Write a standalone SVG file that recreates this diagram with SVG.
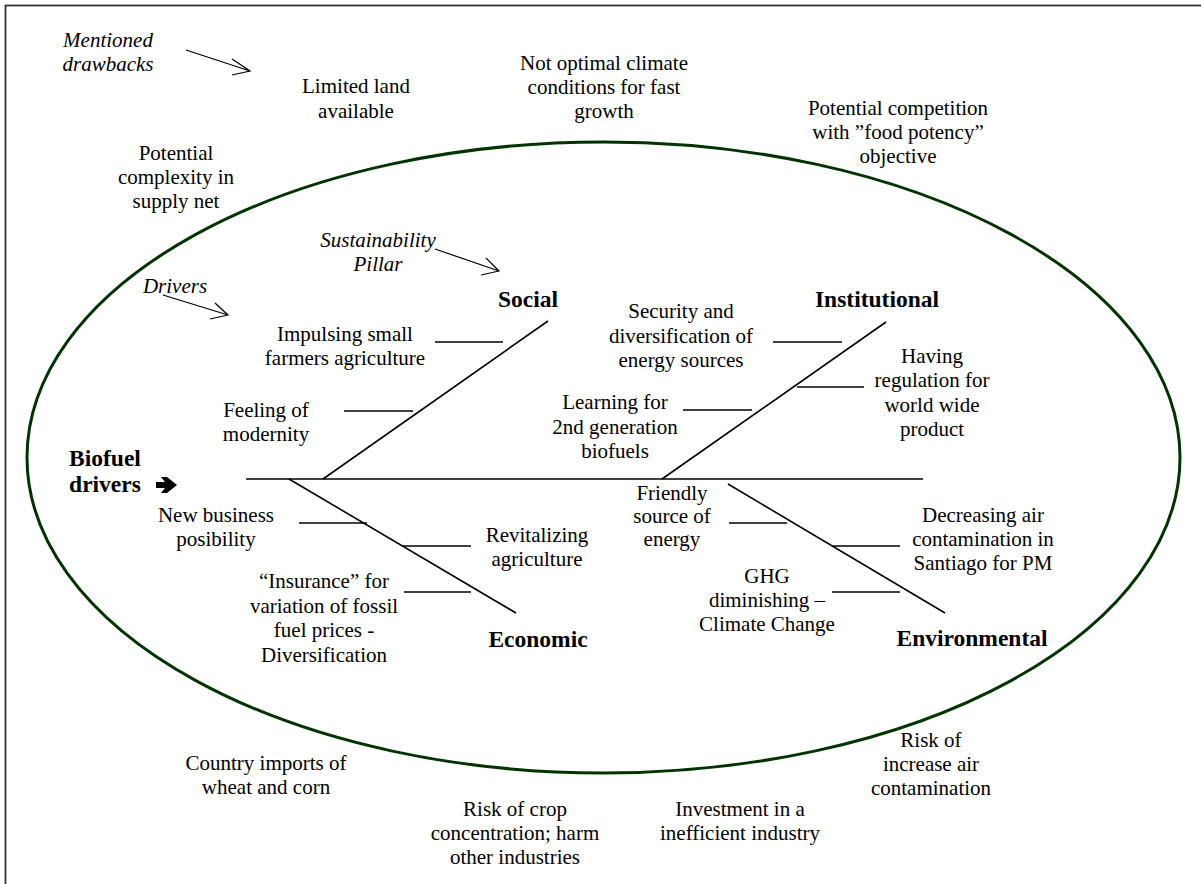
<svg xmlns="http://www.w3.org/2000/svg" width="1201" height="884" viewBox="0 0 1201 884">
<style>
text{font-family:"Liberation Serif","Times New Roman",serif;font-size:21px;fill:#000;text-anchor:middle}
.b{font-weight:bold;font-size:23.5px}
.i{font-style:italic}
.ln{stroke:#000;stroke-width:1.6;fill:none}
.ar{stroke:#000;stroke-width:1.2;fill:none}
</style>
<rect x="5.5" y="5.5" width="1210" height="900" fill="#fff" stroke="#333" stroke-width="1.8"/>
<ellipse id="ellipse" cx="603.5" cy="457.5" rx="576.5" ry="315.5" fill="none" stroke="#003300" stroke-width="3"/>
<g id="connectors">
<line class="ln" x1="246" y1="479" x2="923" y2="479"/>
<line class="ln" x1="323" y1="479" x2="548" y2="321"/>
<line class="ln" x1="289" y1="479" x2="516" y2="613"/>
<line class="ln" x1="662" y1="479" x2="886" y2="322"/>
<line class="ln" x1="728" y1="484" x2="945" y2="613"/>
<line class="ln" x1="435" y1="342" x2="503" y2="342"/>
<line class="ln" x1="344" y1="411" x2="413" y2="411"/>
<line class="ln" x1="299" y1="523" x2="367" y2="523"/>
<line class="ln" x1="402" y1="546" x2="471" y2="546"/>
<line class="ln" x1="404" y1="592" x2="471" y2="592"/>
<line class="ln" x1="773" y1="342" x2="842" y2="342"/>
<line class="ln" x1="683" y1="410" x2="752" y2="410"/>
<line class="ln" x1="797" y1="387" x2="864" y2="387"/>
<line class="ln" x1="729" y1="523" x2="787" y2="523"/>
<line class="ln" x1="832" y1="546" x2="900" y2="546"/>
<line class="ln" x1="832" y1="592" x2="900" y2="592"/>
<path class="ar" d="M186,50 L250,71 M232,59 L250,71 L232,75"/>
<path class="ar" d="M435,249 L499,271 M486,258 L499,271 L481,275"/>
<path class="ar" d="M163,295 L228,315 M215,303 L228,315 L210,319"/>
<polygon points="156,482 165,482 161,477 167,477 177,485 167,493 161,493 165,488 156,488" fill="#000"/>
</g>
<g id="legend-drawbacks"><text class="i" x="108" y="47">Mentioned</text><text class="i" x="108" y="71">drawbacks</text></g>
<g id="legend-pillar"><text class="i" x="378" y="247">Sustainability</text><text class="i" x="378" y="271">Pillar</text></g>
<g id="legend-drivers"><text class="i" x="175" y="293">Drivers</text></g>
<g id="d-land"><text x="356" y="93">Limited land</text><text x="356" y="118">available</text></g>
<g id="d-climate"><text x="604" y="70">Not optimal climate</text><text x="604" y="94">conditions for fast</text><text x="604" y="118">growth</text></g>
<g id="d-food"><text x="898" y="115">Potential competition</text><text x="898" y="139">with ”food potency”</text><text x="898" y="163">objective</text></g>
<g id="d-supply"><text x="176" y="160">Potential</text><text x="176" y="184">complexity in</text><text x="176" y="208">supply net</text></g>
<g id="d-imports"><text x="266" y="770">Country imports of</text><text x="266" y="794">wheat and corn</text></g>
<g id="d-crop"><text x="515" y="816">Risk of crop</text><text x="515" y="840">concentration; harm</text><text x="515" y="864">other industries</text></g>
<g id="d-invest"><text x="740" y="816">Investment in a</text><text x="740" y="840">inefficient industry</text></g>
<g id="d-air"><text x="931" y="747">Risk of</text><text x="931" y="771">increase air</text><text x="931" y="795">contamination</text></g>
<g id="head"><text class="b" x="105" y="466">Biofuel</text><text class="b" x="105" y="492">drivers</text></g>
<g id="p-social"><text class="b" x="528" y="307">Social</text></g>
<g id="p-institutional"><text class="b" x="877" y="307">Institutional</text></g>
<g id="p-economic"><text class="b" x="538" y="647">Economic</text></g>
<g id="p-environmental"><text class="b" x="972" y="646">Environmental</text></g>
<g id="s-small"><text x="345" y="341">Impulsing small</text><text x="345" y="365">farmers agriculture</text></g>
<g id="s-modern"><text x="266" y="417">Feeling of</text><text x="266" y="441">modernity</text></g>
<g id="e-business"><text x="216" y="522">New business</text><text x="216" y="546">posibility</text></g>
<g id="e-agri"><text x="537" y="542">Revitalizing</text><text x="537" y="566">agriculture</text></g>
<g id="e-insurance"><text x="324" y="588">“Insurance” for</text><text x="324" y="613">variation of fossil</text><text x="324" y="637">fuel prices -</text><text x="324" y="662">Diversification</text></g>
<g id="i-security"><text x="681" y="318">Security and</text><text x="681" y="343">diversification of</text><text x="681" y="367">energy sources</text></g>
<g id="i-learning"><text x="615" y="409">Learning for</text><text x="615" y="434">2nd generation</text><text x="615" y="458">biofuels</text></g>
<g id="i-regulation"><text x="932" y="363">Having</text><text x="932" y="387">regulation for</text><text x="932" y="412">world wide</text><text x="932" y="436">product</text></g>
<g id="v-friendly"><text x="672" y="500">Friendly</text><text x="672" y="523">source of</text><text x="672" y="546">energy</text></g>
<g id="v-decrease"><text x="983" y="522">Decreasing air</text><text x="983" y="546">contamination in</text><text x="983" y="570">Santiago for PM</text></g>
<g id="v-ghg"><text x="767" y="583">GHG</text><text x="767" y="607">diminishing –</text><text x="767" y="631">Climate Change</text></g>
</svg>
